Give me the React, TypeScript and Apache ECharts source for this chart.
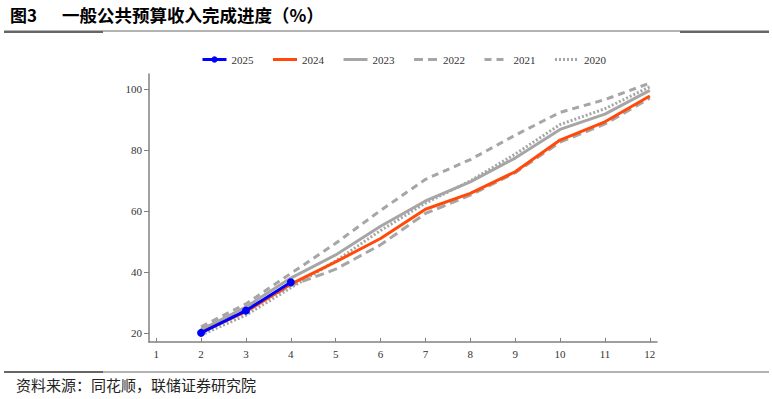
import React, { useEffect, useRef } from "react";
import * as echarts from "echarts";

const months = [1, 2, 3, 4, 5, 6, 7, 8, 9, 10, 11, 12];
const yTicks = [20, 40, 60, 80, 100];
const legendNames = ["2025", "2024", "2023", "2022", "2021", "2020"];
const s2025 = [null, 20.0, 27.3, 36.6, null, null, null, null, null, null, null, null];
const s2024 = [null, 20.2, 27.0, 36.0, 43.3, 51.0, 60.6, 65.8, 72.9, 83.3, 89.3, 97.8];
const s2023 = [null, 21.0, 28.5, 38.0, 45.6, 55.0, 63.3, 69.6, 77.4, 86.8, 91.8, 99.6];
const s2022 = [null, 21.2, 27.8, 35.5, 40.9, 48.9, 59.2, 65.2, 72.6, 82.6, 88.6, 97.1];
const s2021 = [null, 22.0, 29.5, 39.5, 49.4, 60.2, 70.4, 76.9, 84.9, 92.4, 96.6, 102.0];
const s2020 = [null, 19.3, 25.8, 34.8, 43.6, 53.6, 62.6, 69.9, 78.7, 88.4, 93.6, 100.8];

const pairs = (arr: (number | null)[]) => months.map((m, i) => [m, arr[i]]);

export default function App() {
  const ref = useRef<HTMLDivElement>(null);
  useEffect(() => {
    document.body.style.margin = "0";
    const chart = echarts.init(ref.current!, null, { renderer: "svg" });
    const gray = "#a6a6a6";
    const serif = "'Liberation Serif', 'DejaVu Serif', serif";
    chart.setOption({
      animation: false,
      backgroundColor: "#ffffff",
      grid: { left: 149, right: 115, top: 74, bottom: 57 },
      legend: {
        top: 49,
        left: 196,
        itemWidth: 24,
        itemHeight: 8,
        itemGap: 18,
        lineStyle: { width: 3 },
        textStyle: { fontFamily: serif, fontSize: 11, color: "#333" },
        data: legendNames.map((n) =>
          n === "2025" ? { name: n } : { name: n, itemStyle: { opacity: 0 } }
        ),
      },
      xAxis: {
        type: "value",
        min: 0.84,
        max: 12.16,
        splitLine: { show: false },
        axisLine: { lineStyle: { color: "#808080", width: 1.5 } },
        axisTick: { inside: true, length: 4, customValues: months, lineStyle: { color: "#808080" } },
        axisLabel: { customValues: months, fontFamily: serif, fontSize: 11, color: "#333", margin: 6 },
      },
      yAxis: {
        type: "value",
        min: 17,
        max: 105,
        splitLine: { show: false },
        axisLine: { show: true, lineStyle: { color: "#808080", width: 1.5 } },
        axisTick: { show: true, length: 5, customValues: yTicks, lineStyle: { color: "#808080" } },
        axisLabel: { customValues: yTicks, fontFamily: serif, fontSize: 11, color: "#333", margin: 7 },
      },
      series: [
        {
          name: "2020", type: "line", data: pairs(s2020), showSymbol: false, symbol: "none",
          itemStyle: { color: gray }, lineStyle: { color: gray, width: 3, type: [2, 2] }, z: 2,
        },
        {
          name: "2021", type: "line", data: pairs(s2021), showSymbol: false, symbol: "none",
          itemStyle: { color: gray }, lineStyle: { color: gray, width: 3, type: [7, 5] }, z: 2,
        },
        {
          name: "2022", type: "line", data: pairs(s2022), showSymbol: false, symbol: "none",
          itemStyle: { color: gray }, lineStyle: { color: gray, width: 3, type: [9, 5] }, z: 2,
        },
        {
          name: "2023", type: "line", data: pairs(s2023), showSymbol: false, symbol: "none",
          itemStyle: { color: gray }, lineStyle: { color: gray, width: 3 }, z: 3,
        },
        {
          name: "2024", type: "line", data: pairs(s2024), showSymbol: false, symbol: "none",
          itemStyle: { color: "#ff4a0a" }, lineStyle: { color: "#ff4a0a", width: 3 }, z: 4,
        },
        {
          name: "2025", type: "line", data: pairs(s2025), symbol: "circle", symbolSize: 8, showSymbol: true,
          itemStyle: { color: "#0000ff" }, lineStyle: { color: "#0000ff", width: 3 }, z: 5,
        },
      ],
      graphic: [
        {
          type: "text", left: 10, top: 6,
          style: { text: "图3", font: "bold 17px 'Noto Sans CJK SC', sans-serif", fill: "#000" },
        },
        {
          type: "text", left: 62, top: 6,
          style: {
            text: "一般公共预算收入完成进度（%）",
            font: "bold 17.5px 'Noto Sans CJK SC', sans-serif", fill: "#000",
          },
        },
        { type: "line", shape: { x1: 4, y1: 31, x2: 769, y2: 31 }, style: { stroke: "#666", lineWidth: 1 } },
        { type: "rect", shape: { x: 4, y: 31, width: 99, height: 2 }, style: { fill: "#666" } },
        { type: "rect", shape: { x: 680, y: 31, width: 89, height: 2 }, style: { fill: "#666" } },
        { type: "line", shape: { x1: 4, y1: 372, x2: 769, y2: 372 }, style: { stroke: "#666", lineWidth: 1 } },
        { type: "rect", shape: { x: 4, y: 371, width: 99, height: 2 }, style: { fill: "#666" } },
        {
          type: "text", left: 16, top: 377,
          style: {
            text: "资料来源：同花顺，联储证券研究院",
            font: "15px 'Noto Sans CJK SC', sans-serif", fill: "#222",
          },
        },
      ],
    });
    return () => chart.dispose();
  }, []);
  return <div ref={ref} style={{ width: 772, height: 399 }} />;
}
